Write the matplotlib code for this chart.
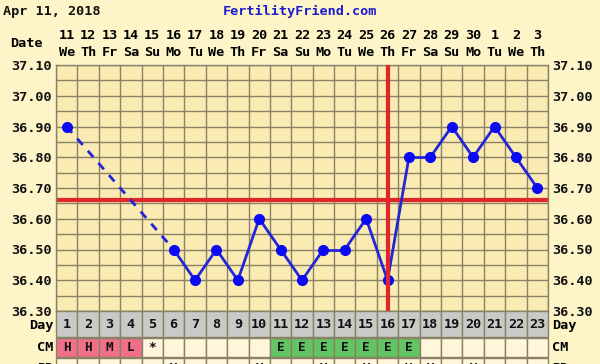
import matplotlib
matplotlib.use("Agg")
import matplotlib.pyplot as plt
import numpy as np
from matplotlib.patches import Rectangle

plt.rcParams['font.family'] = ['DejaVu Sans Mono', 'DejaVu Sans']
plt.rcParams['font.weight'] = 'bold'

# data
cycle_days = list(range(1, 24))
dates = ["11", "12", "13", "14", "15", "16", "17", "18", "19", "20", "21", "22",
         "23", "24", "25", "26", "27", "28", "29", "30", "1", "2", "3"]
weekdays = ["We", "Th", "Fr", "Sa", "Su", "Mo", "Tu", "We", "Th", "Fr", "Sa", "Su",
            "Mo", "Tu", "We", "Th", "Fr", "Sa", "Su", "Mo", "Tu", "We", "Th"]
temps = [36.90, None, None, None, None, 36.50, 36.40, 36.50, 36.40, 36.60, 36.50, 36.40,
         36.50, 36.50, 36.60, 36.40, 36.80, 36.80, 36.90, 36.80, 36.90, 36.80, 36.70]
coverline = 36.66
ovulation_day = 16
cm_codes = ["H", "H", "M", "L", "*", "", "", "", "", "", "E", "E",
            "E", "E", "E", "E", "E", "", "", "", "", "", ""]
bd_marks = ["", "", "", "", "", "Y", "", "", "", "Y", "", "",
            "Y", "", "Y", "", "Y", "Y", "", "Y", "", "", ""]
y_ticks = [36.30, 36.40, 36.50, 36.60, 36.70, 36.80, 36.90, 37.00, 37.10]

bg = '#fdf4c8'
plot_bg = '#f9ebb2'
grid_c = '#8a8266'
red = '#e0262a'
blue = '#2424d8'
fs = 9.7

fig = plt.figure(figsize=(6, 3.64), dpi=100, facecolor=bg)
W, H = 600, 364
ax = fig.add_axes([56 / W, (H - 311) / H, 492 / W, 246 / H])
ax.set_facecolor(plot_bg)
ax.set_xlim(0.5, 23.5)
ax.set_ylim(36.30, 37.10)

# grid
for x in np.arange(0.5, 24.0, 1.0):
    ax.axvline(x, color=grid_c, lw=1, zorder=1)
for y in np.arange(36.30, 37.101, 0.05):
    ax.axhline(y, color=grid_c, lw=1, zorder=1)
for s in ax.spines.values():
    s.set_color(grid_c)
    s.set_linewidth(1)

ax.set_xticks([])
ax.set_yticks(y_ticks)
ax.set_yticklabels(["%.2f" % v for v in y_ticks])
ax.tick_params(axis='y', length=0, labelleft=True, labelright=True, labelsize=fs,
               pad=3, colors='#111111')

# coverline
ax.axhline(coverline, color=red, lw=3, zorder=2)

# temperature line: solid for consecutive days, dashed over gaps
pts = [(d, t) for d, t in zip(cycle_days, temps) if t is not None]
for (d0, t0), (d1, t1) in zip(pts[:-1], pts[1:]):
    style = '-' if d1 - d0 == 1 else (0, (3, 2.8))
    ax.plot([d0, d1], [t0, t1], color=blue, lw=2, ls=style, zorder=3)
ax.plot([p[0] for p in pts], [p[1] for p in pts], 'o', color='#0a0af5', ms=7,
        zorder=4, ls='none')

# ovulation line
ax.axvline(ovulation_day, color=red, lw=3, zorder=5)

# header: date and weekday
hdr = ax.get_xaxis_transform()
for d, dt, wd in zip(cycle_days, dates, weekdays):
    ax.text(d, (311 - 36) / 246, dt, transform=hdr, ha='center', va='center',
            fontsize=fs, clip_on=False)
    ax.text(d, (311 - 53) / 246, wd, transform=hdr, ha='center', va='center',
            fontsize=fs, clip_on=False)
ax.text(-0.12, (311 - 44) / 246, "Date", transform=hdr, ha='right', va='center',
        fontsize=fs, clip_on=False)

fig.text(3 / W, 1 - 11 / H, "Apr 11, 2018", ha='left', va='center', fontsize=fs,
         color='#111111')
fig.text(300 / W, 1 - 11 / H, "FertilityFriend.com", ha='center', va='center',
         fontsize=fs, color='#1c1ccc')

# rows under the chart
rax = fig.add_axes([56 / W, (H - 380) / H, 492 / W, 69 / H])
rax.set_xlim(0.5, 23.5)
rax.set_ylim(69, 0)
rax.axis('off')
rows = [("Day", 0, 26), ("CM", 27, 19), ("BD", 47, 20)]
cm_colors = {"H": '#f0708a', "M": '#f0708a', "L": '#f0708a', "E": '#62c462'}
for d in cycle_days:
    i = d - 1
    rax.add_patch(Rectangle((d - 0.5, 0), 1, 26, facecolor='#c9c9c6', edgecolor=grid_c,
                            lw=1, clip_on=False))
    rax.text(d, 14, str(d), ha='center', va='center', fontsize=fs, color='#111111')
    rax.add_patch(Rectangle((d - 0.5, 27), 1, 19,
                            facecolor=cm_colors.get(cm_codes[i], '#fff6dc'),
                            edgecolor=grid_c, lw=1, clip_on=False))
    if cm_codes[i]:
        rax.text(d, 36.5, cm_codes[i], ha='center', va='center', fontsize=fs - 0.5,
                 color='#111111')
    rax.add_patch(Rectangle((d - 0.5, 47), 1, 20, facecolor='#fff6dc',
                            edgecolor=grid_c, lw=1, clip_on=False))
    if bd_marks[i]:
        rax.text(d, 57, bd_marks[i], ha='center', va='center', fontsize=fs - 1,
                 color='#111111')
label_y = {"Day": 15, "CM": 36.5, "BD": 57}
for name, top, h in rows:
    rax.text(0.38, label_y[name], name, ha='right', va='center', fontsize=fs,
             clip_on=False)
    rax.text(23.7, label_y[name], name, ha='left', va='center', fontsize=fs,
             clip_on=False)

fig.savefig("out.png", dpi=100, facecolor=bg)
